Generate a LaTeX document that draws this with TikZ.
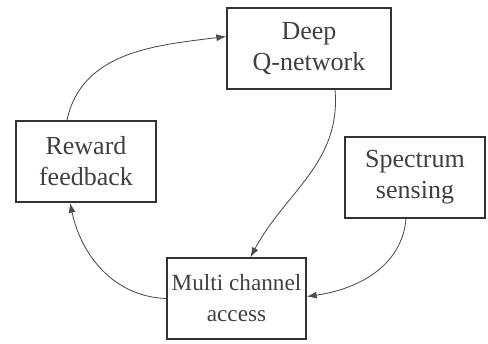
\documentclass[tikz,border=0pt]{standalone}
\usepackage{fontspec}
\setmainfont{Liberation Serif}
\usetikzlibrary{arrows.meta}

\begin{document}
\begin{tikzpicture}[
    x=0.025cm, y=-0.025cm,
    box/.style={draw=black!80, line width=1.1pt, minimum height=2.025cm, align=center,
                font=\fontsize{18.5}{22}\selectfont, text=black!75, inner sep=2pt},
    flow/.style={-{Latex[length=7pt,width=5pt]}, draw=black!70, line width=0.6pt}
]
    \useasboundingbox (0,0) rectangle (488,343);

    % Nodes (placed at pixel positions of the original)
    \node[box, minimum width=4.1cm]   (dqn)  at (309,48.5)   {Deep\\Q-network};
    \node[box, minimum width=3.5cm]   (rew)  at (86,161.5)   {Reward\\feedback};
    \node[box, minimum width=3.5cm]   (spec) at (415,177.5)  {Spectrum\\sensing};
    \node[box, minimum width=3.475cm, font=\fontsize{16.5}{22}\selectfont]
                                      (mca)  at (236.5,298.5) {Multi channel\\access};

    % Loop edges
    \draw[flow] ([xshift=-0.475cm]rew.north) to[out=78, in=187] ([yshift=0.3cm]dqn.west);
    \draw[flow] ([xshift=0.65cm]dqn.south) to[out=-85, in=62] ([xshift=0.35cm]mca.north);
    \draw[flow] ([xshift=-0.225cm]spec.south) to[out=-95, in=8] ([yshift=0.05cm]mca.east);
    \draw[flow] (mca.west) to[out=178, in=-78] ([xshift=-0.4cm]rew.south);
\end{tikzpicture}
\end{document}
